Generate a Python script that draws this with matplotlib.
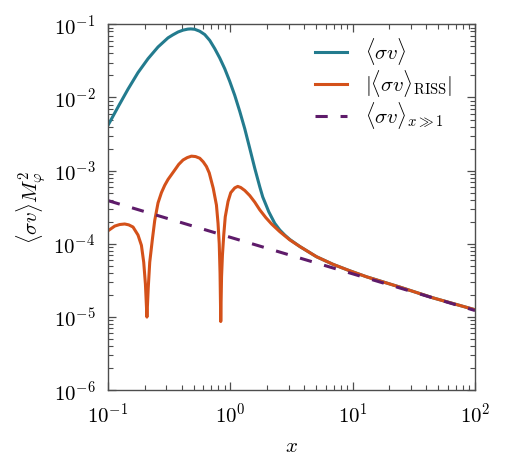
import matplotlib
matplotlib.use("Agg")
import matplotlib.pyplot as plt
from matplotlib.legend import Legend

plt.rcParams['mathtext.fontset'] = 'cm'
plt.rcParams['font.family'] = 'serif'
plt.rcParams['font.serif'] = ['cmr10', 'DejaVu Serif']
plt.rcParams['axes.formatter.use_mathtext'] = True

# <sigma v>  (blue)
x_sv = [0.1, 0.1207, 0.1457, 0.1759, 0.2124, 0.2563, 0.3094, 0.3381, 0.3736,
        0.4104, 0.4485, 0.4745, 0.5116, 0.5622, 0.6176, 0.6785, 0.7455, 0.8188,
        0.9000, 0.9888, 1.0864, 1.1938, 1.3113, 1.4410, 1.5831, 1.7395, 1.8404,
        1.9478, 2.0606, 2.1802, 2.3067, 2.5345, 2.7848, 3.0597, 3.69, 5.06,
        6.92, 9.47, 13.0, 24.3, 45.4, 100.0]
y_sv = [4.17e-3, 7.41e-3, 1.30e-2, 2.19e-2, 3.39e-2, 4.90e-2, 6.53e-2, 7.16e-2,
        7.85e-2, 8.32e-2, 8.59e-2, 8.65e-2, 8.55e-2, 8.04e-2, 7.24e-2, 6.03e-2,
        4.65e-2, 3.47e-2, 2.47e-2, 1.66e-2, 1.07e-2, 6.46e-3, 3.75e-3, 2.02e-3,
        1.08e-3, 6.03e-4, 4.37e-4, 3.47e-4, 2.75e-4, 2.29e-4, 1.91e-4, 1.55e-4,
        1.32e-4, 1.15e-4, 9.23e-5, 6.68e-5, 5.25e-5, 4.29e-5, 3.55e-5, 2.57e-5,
        1.83e-5, 1.26e-5]

# |<sigma v>_RISS|  (orange)
x_riss = [0.1, 0.1134, 0.1247, 0.1369, 0.1477, 0.1601, 0.1759, 0.1875, 0.1958,
          0.2022, 0.2080, 0.2132, 0.2193, 0.2307, 0.2409, 0.2563, 0.2732, 0.2907,
          0.3094, 0.3510, 0.3785, 0.4104, 0.4443, 0.4808, 0.5194, 0.5622, 0.6004,
          0.6377, 0.6721, 0.7247, 0.7697, 0.7932, 0.8114, 0.8238, 0.8347, 0.8474,
          0.8619, 0.8830, 0.9085, 0.9576, 1.0076, 1.0864, 1.1495, 1.2162, 1.3113,
          1.4410, 1.5831, 1.7395, 1.9478, 2.1802, 2.5345, 3.0597, 3.69, 5.06,
          6.92, 9.47, 13.0, 24.3, 45.4, 100.0]
y_riss = [1.51e-4, 1.75e-4, 1.84e-4, 1.87e-4, 1.82e-4, 1.70e-4, 1.32e-4, 9.55e-5,
          5.62e-5, 2.82e-5, 1.0e-5, 2.51e-5, 5.62e-5, 1.17e-4, 2.09e-4, 3.63e-4,
          5.01e-4, 6.31e-4, 7.59e-4, 1.02e-3, 1.22e-3, 1.40e-3, 1.51e-3, 1.58e-3,
          1.56e-3, 1.48e-3, 1.32e-3, 1.14e-3, 9.33e-4, 5.75e-4, 3.39e-4, 1.91e-4,
          1.0e-4, 3.98e-5, 8.7e-6, 3.55e-5, 7.08e-5, 1.32e-4, 2.34e-4, 3.80e-4,
          5.01e-4, 5.82e-4, 6.10e-4, 5.89e-4, 5.37e-4, 4.57e-4, 3.72e-4, 2.92e-4,
          2.29e-4, 1.86e-4, 1.47e-4, 1.135e-4, 9.23e-5, 6.68e-5, 5.25e-5, 4.29e-5,
          3.55e-5, 2.57e-5, 1.83e-5, 1.26e-5]

# <sigma v>_{x>>1}  (purple dashed)
x_asym = [0.1, 1.0, 10.0, 100.0]
y_asym = [3.9e-4, 1.23e-4, 3.9e-5, 1.23e-5]

labels = [r'$\langle\sigma v\rangle$',
          r'$|\langle\sigma v\rangle_{\rm RISS}|$',
          r'$\langle\sigma v\rangle_{x\gg1}$']

c_blue = '#237b8e'
c_orange = '#d4511a'
c_purple = '#5e1b6a'
spine_c = '#4d4d4d'

fig = plt.figure(figsize=(5.05, 4.70), dpi=100)
ax = fig.add_axes([0.2139, 0.1696, 0.7267, 0.7787])

lw = 2.2
l1, = ax.plot(x_sv, y_sv, color=c_blue, lw=lw)
l2, = ax.plot(x_riss, y_riss, color=c_orange, lw=lw)
l3, = ax.plot(x_asym, y_asym, color=c_purple, lw=lw, dashes=(4.0, 4.2))

ax.set_xscale('log')
ax.set_yscale('log')
ax.set_xlim(0.1, 100)
ax.set_ylim(1e-6, 1e-1)

for s in ax.spines.values():
    s.set_color(spine_c)
    s.set_linewidth(1.0)
ax.tick_params(which='both', direction='in', top=True, right=True,
               colors=spine_c, labelcolor='black', labelsize=15)
ax.tick_params(which='major', length=6, width=0.9, pad=9)
ax.tick_params(which='minor', length=3.5, width=0.8)

ax.set_xlabel(r'$x$', fontsize=15, labelpad=8)
ax.set_ylabel(r'$\langle\sigma v\rangle M_\varphi^2$', fontsize=15, labelpad=4)

row_y = [0.927, 0.8396, 0.752]
for line, lab, yy in zip([l1, l2, l3], labels, row_y):
    lg = Legend(ax, [line], [lab], loc='center left', bbox_to_anchor=(0.563, yy),
                frameon=False, fontsize=15, handlelength=1.53,
                handletextpad=0.9, borderpad=0, borderaxespad=0)
    ax.add_artist(lg)

fig.savefig('out.png', dpi=100)
